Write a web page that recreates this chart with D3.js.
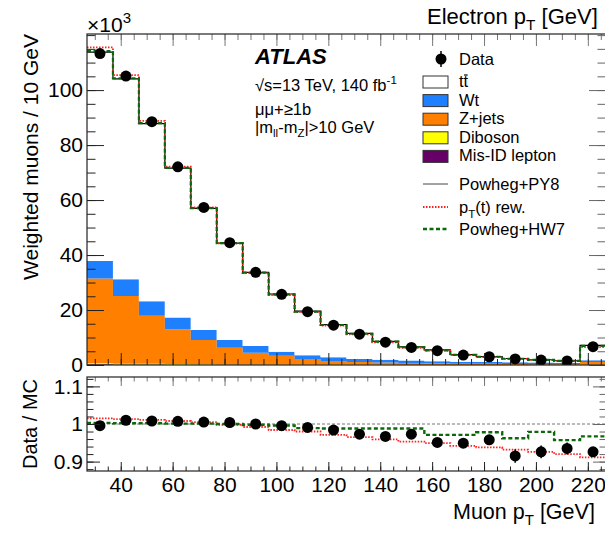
<!DOCTYPE html>
<html>
<head>
<meta charset="utf-8">
<script src="https://cdn.jsdelivr.net/npm/d3@7"></script>
<style>
body { margin: 0; background: #fff; }
text { font-family: 'Liberation Sans', Arial, sans-serif; fill: #000; }
</style>
</head>
<body>
<div id="chart"></div>
<script>
// muon pT bin edges [GeV]
const binEdges = [27, 37, 47, 57, 67, 77, 87, 97, 107, 117, 127, 137, 147, 157, 167, 177, 187, 197, 207, 217, 227];

// weighted muons / 10 GeV, x10^3
const dataCounts = [113.3, 105.1, 88.5, 72.1, 57.3, 44.5, 33.7, 25.7, 19.4, 14.5, 11.2, 8.3, 6.4, 5.2, 3.6, 3.0, 2.2, 1.8, 1.45, 6.65];
const ttbar   = [76.0, 72.9, 64.6, 54.3, 44.3, 35.2, 26.8, 21.0, 16.0, 11.9, 9.3, 6.7, 5.0, 4.1, 2.6, 2.0, 1.4, 1.05, 0.75, 5.4];
const wt      = [6.3, 6.1, 5.3, 4.3, 3.6, 2.8, 2.4, 1.5, 1.4, 1.35, 1.1, 1.0, 0.9, 0.8, 0.7, 0.65, 0.6, 0.55, 0.5, 0.7];
const zjets   = [30.9, 24.6, 17.5, 12.7, 8.85, 6.1, 4.35, 3.2, 2.1, 1.4, 1.05, 0.85, 0.65, 0.55, 0.45, 0.4, 0.35, 0.3, 0.28, 1.0];
const diboson = [0.35, 0.3, 0.25, 0.2, 0.16, 0.13, 0.1, 0.08, 0.06, 0.05, 0.04, 0.035, 0.03, 0.025, 0.02, 0.018, 0.015, 0.012, 0.01, 0.05];
const misId   = [0.25, 0.2, 0.16, 0.12, 0.09, 0.07, 0.05, 0.04, 0.03, 0.025, 0.02, 0.015, 0.012, 0.01, 0.008, 0.007, 0.006, 0.005, 0.004, 0.02];

// ratio panel
const dataOverMC    = [0.9955, 1.010, 1.008, 1.007, 1.005, 1.004, 1.000, 0.9955, 0.991, 0.984, 0.973, 0.967, 0.973, 0.951, 0.949, 0.958, 0.915, 0.926, 0.935, 0.926];
const dataOverMCErr = [0.003, 0.003, 0.003, 0.003, 0.004, 0.004, 0.005, 0.005, 0.006, 0.007, 0.008, 0.009, 0.010, 0.011, 0.012, 0.013, 0.018, 0.017, 0.016, 0.012];
const ptRewOverNom  = [1.015, 1.013, 1.011, 1.008, 1.005, 0.998, 0.992, 0.984, 0.980, 0.971, 0.965, 0.959, 0.953, 0.949, 0.942, 0.938, 0.932, 0.926, 0.920, 0.911];
const hw7OverNom    = [1.003, 1.002, 1.002, 1.001, 1.001, 1.000, 0.998, 0.996, 0.989, 0.988, 0.988, 0.988, 0.988, 0.971, 0.971, 0.978, 0.962, 0.979, 0.957, 0.967];

// axis ticks
const xTicks = [40, 60, 80, 100, 120, 140, 160, 180, 200, 220];
const yTicks = [0, 20, 40, 60, 80, 100];
const ratioTicks = [0.9, 1, 1.1];

const width = 605, height = 537;
const left = 87, right = 606;
const mainTop = 34, mainBottom = 365;
const ratioTop = 377, ratioBottom = 471;

const svg = d3.select('#chart')
.append('svg')
.attr('width', width)
.attr('height', height);

const x = d3.scaleLinear().domain([27, 227]).range([left, right]);
const y = d3.scaleLinear().domain([0, 120.4]).range([mainBottom, mainTop]);
const yr = d3.scaleLinear().domain([0.875, 1.125]).range([ratioBottom, ratioTop]);

const defs = svg.append('defs');
defs.append('clipPath').attr('id', 'clipMain')
.append('rect').attr('x', left).attr('y', mainTop).attr('width', right - left).attr('height', mainBottom - mainTop);
defs.append('clipPath').attr('id', 'clipRatio')
.append('rect').attr('x', left).attr('y', ratioTop).attr('width', right - left).attr('height', ratioBottom - ratioTop);

function stepPoints( values ) {
    const pts = [];
    values.forEach((v, i) => {
        pts.push([binEdges[i], v]);
        pts.push([binEdges[i + 1], v]);
    });
    return pts;
}

// ---- main panel: stacked backgrounds
const rows = binEdges.slice(0, -1).map((lo, i) => ({
    i: i, misId: misId[i], diboson: diboson[i], zjets: zjets[i], wt: wt[i], ttbar: ttbar[i]
}));
const keys = ['misId', 'diboson', 'zjets', 'wt', 'ttbar'];
const colors = { misId: '#660066', diboson: '#ffff00', zjets: '#ff7f00', wt: '#1e7fff', ttbar: '#ffffff' };
const stacked = d3.stack().keys(keys)(rows);

const mainG = svg.append('g').attr('clip-path', 'url(#clipMain)');

const area = d3.area()
.x(d => x(d.x))
.y0(d => y(d.y0))
.y1(d => y(d.y1));

stacked.forEach(layer => {
    const pts = [];
    layer.forEach((d, i) => {
        pts.push({ x: binEdges[i], y0: d[0], y1: d[1] });
        pts.push({ x: binEdges[i + 1], y0: d[0], y1: d[1] });
    });
    mainG.append('path')
    .attr('d', area(pts))
    .attr('fill', colors[layer.key]);
});

const total = rows.map(r => keys.reduce((s, k) => s + r[k], 0));

const line = d3.line().x(d => x(d[0])).y(d => y(d[1]));

mainG.append('path')
.attr('d', line(stepPoints(total)))
.attr('fill', 'none')
.attr('stroke', '#000')
.attr('stroke-width', 1.2);

mainG.append('path')
.attr('d', line(stepPoints(total.map((t, i) => t * ptRewOverNom[i]))))
.attr('fill', 'none')
.attr('stroke', '#ff2020')
.attr('stroke-width', 1.8)
.attr('stroke-dasharray', '1.5,1.5');

mainG.append('path')
.attr('d', line(stepPoints(total.map((t, i) => t * hw7OverNom[i]))))
.attr('fill', 'none')
.attr('stroke', '#0a6a0a')
.attr('stroke-width', 2.2)
.attr('stroke-dasharray', '4,2.5');

mainG.selectAll('circle.data')
.data(dataCounts)
.enter()
.append('circle')
.attr('class', 'data')
.attr('cx', (d, i) => x((binEdges[i] + binEdges[i + 1]) / 2))
.attr('cy', d => y(d))
.attr('r', 5.5)
.attr('fill', '#000');

// ---- ratio panel
const ratioG = svg.append('g').attr('clip-path', 'url(#clipRatio)');
const rline = d3.line().x(d => x(d[0])).y(d => yr(d[1]));

ratioG.append('line')
.attr('x1', left).attr('x2', right)
.attr('y1', yr(1)).attr('y2', yr(1))
.attr('stroke', '#777')
.attr('stroke-width', 1)
.attr('stroke-dasharray', '3,2');

ratioG.append('path')
.attr('d', rline(stepPoints(ptRewOverNom)))
.attr('fill', 'none')
.attr('stroke', '#ff2020')
.attr('stroke-width', 1.8)
.attr('stroke-dasharray', '1.5,1.5');

ratioG.append('path')
.attr('d', rline(stepPoints(hw7OverNom)))
.attr('fill', 'none')
.attr('stroke', '#0a6a0a')
.attr('stroke-width', 2.4)
.attr('stroke-dasharray', '4,2.5');

ratioG.selectAll('line.err')
.data(dataOverMC)
.enter()
.append('line')
.attr('class', 'err')
.attr('x1', (d, i) => x((binEdges[i] + binEdges[i + 1]) / 2))
.attr('x2', (d, i) => x((binEdges[i] + binEdges[i + 1]) / 2))
.attr('y1', (d, i) => yr(d - dataOverMCErr[i]))
.attr('y2', (d, i) => yr(d + dataOverMCErr[i]))
.attr('stroke', '#000')
.attr('stroke-width', 1.5);

ratioG.selectAll('circle.data')
.data(dataOverMC)
.enter()
.append('circle')
.attr('class', 'data')
.attr('cx', (d, i) => x((binEdges[i] + binEdges[i + 1]) / 2))
.attr('cy', d => yr(d))
.attr('r', 5.5)
.attr('fill', '#000');

// ---- axes
function styleAxis( g, color ) {
    g.select('.domain').remove();
    g.selectAll('line').attr('stroke', color).attr('stroke-width', 1);
    g.selectAll('text').attr('font-size', 21).attr('fill', '#000')
    .attr('font-family', "'Liberation Sans', Arial, sans-serif");
}

function drawAxes( yScale, top, bottom, majorY, minorY, ySize, xSize, withXLabels, yFormat ) {
    // left
    svg.append('g').attr('transform', `translate(${left},0)`)
    .call(d3.axisLeft(yScale).tickValues(minorY).tickSize(-ySize / 2).tickFormat(''))
    .call(g => styleAxis(g, '#222'));
    svg.append('g').attr('transform', `translate(${left},0)`)
    .call(d3.axisLeft(yScale).tickValues(majorY).tickSize(-ySize).tickPadding(4).tickFormat(yFormat))
    .call(g => styleAxis(g, '#222'));
    // right mirror
    svg.append('g').attr('transform', `translate(${right},0)`)
    .call(d3.axisRight(yScale).tickValues(minorY).tickSize(-ySize / 2).tickFormat(''))
    .call(g => styleAxis(g, '#666'));
    svg.append('g').attr('transform', `translate(${right},0)`)
    .call(d3.axisRight(yScale).tickValues(majorY).tickSize(-ySize).tickFormat(''))
    .call(g => styleAxis(g, '#666'));
    // bottom
    const minorX = d3.range(30, 227, 5);
    svg.append('g').attr('transform', `translate(0,${bottom})`)
    .call(d3.axisBottom(x).tickValues(minorX).tickSize(-xSize / 2).tickFormat(''))
    .call(g => styleAxis(g, '#222'));
    svg.append('g').attr('transform', `translate(0,${bottom})`)
    .call(d3.axisBottom(x).tickValues(xTicks).tickSize(-xSize).tickPadding(6).tickFormat(withXLabels ? d3.format('d') : ''))
    .call(g => styleAxis(g, '#222'));
    // top mirror
    svg.append('g').attr('transform', `translate(0,${top})`)
    .call(d3.axisTop(x).tickValues(minorX).tickSize(-xSize / 2).tickFormat(''))
    .call(g => styleAxis(g, '#777'));
    svg.append('g').attr('transform', `translate(0,${top})`)
    .call(d3.axisTop(x).tickValues(xTicks).tickSize(-xSize).tickFormat(''))
    .call(g => styleAxis(g, '#777'));
    // frame
    svg.append('rect')
    .attr('x', left).attr('y', top)
    .attr('width', right - left).attr('height', bottom - top)
    .attr('fill', 'none')
    .attr('stroke', '#222')
    .attr('stroke-width', 1.2);
}

drawAxes(y, mainTop, mainBottom, yTicks, d3.range(0, 121, 5), 17, 12, false, d3.format('d'));
drawAxes(yr, ratioTop, ratioBottom, ratioTicks, d3.range(0.88, 1.125, 0.02), 13, 9, true, d => d === 1 ? '1' : d3.format('.1f')(d));

// ---- titles
svg.append('text')
.attr('transform', `translate(38,${mainTop}) rotate(-90)`)
.attr('text-anchor', 'end')
.attr('font-size', 21)
.text('Weighted muons / 10 GeV');

svg.append('text')
.attr('transform', `translate(37,${(ratioTop + ratioBottom) / 2}) rotate(-90)`)
.attr('text-anchor', 'middle')
.attr('font-size', 20)
.text('Data / MC');

const x103 = svg.append('text').attr('x', left).attr('y', 32).attr('font-size', 21);
x103.append('tspan').text('\u00d710');
x103.append('tspan').attr('dy', -9).attr('font-size', 15).text('3');

function ptTitle( px, py, pre, post, size ) {
    const t = svg.append('text').attr('x', px).attr('y', py).attr('font-size', size);
    t.append('tspan').text(pre + ' p');
    t.append('tspan').attr('dy', 6).attr('font-size', size * 0.7).text('T');
    t.append('tspan').attr('dy', -6).text('\u00a0' + post);
}
ptTitle(427, 24, 'Electron', '[GeV]', 22);
ptTitle(453, 519, 'Muon', '[GeV]', 21.5);

// ---- ATLAS label
svg.append('text')
.attr('x', 255).attr('y', 64)
.attr('font-size', 22)
.attr('font-weight', 'bold')
.attr('font-style', 'italic')
.text('ATLAS');

const info1 = svg.append('text').attr('x', 255).attr('y', 91).attr('font-size', 16.5);
info1.append('tspan').text('\u221as=13 TeV, 140 fb');
info1.append('tspan').attr('dy', -7).attr('font-size', 11.5).text('-1');

svg.append('text').attr('x', 255).attr('y', 115).attr('font-size', 16.5).text('\u03bc\u03bc+\u22651b');

const info3 = svg.append('text').attr('x', 255).attr('y', 133).attr('font-size', 16.5);
info3.append('tspan').text('|m');
info3.append('tspan').attr('dy', 4).attr('font-size', 11.5).text('ll');
info3.append('tspan').attr('dy', -4).text('-m');
info3.append('tspan').attr('dy', 4).attr('font-size', 11.5).text('Z');
info3.append('tspan').attr('dy', -4).text('|>10 GeV');

// ---- legend
const legX = 423, legTextX = 459;
const lg = svg.append('g');

lg.append('line').attr('x1', legX + 18).attr('x2', legX + 18).attr('y1', 51).attr('y2', 67).attr('stroke', '#000').attr('stroke-width', 1.5);
lg.append('circle').attr('cx', legX + 18).attr('cy', 59).attr('r', 5.5).attr('fill', '#000');
lg.append('text').attr('x', legTextX).attr('y', 65).attr('font-size', 16.5).text('Data');

const boxEntries = [
    { key: 'ttbar', label: 'tt' },
    { key: 'wt', label: 'Wt' },
    { key: 'zjets', label: 'Z+jets' },
    { key: 'diboson', label: 'Diboson' },
    { key: 'misId', label: 'Mis-ID lepton' }
];
boxEntries.forEach((e, i) => {
    const by = 87 + i * 18.6;
    lg.append('rect')
    .attr('x', legX).attr('y', by - 11)
    .attr('width', 25).attr('height', 12)
    .attr('fill', colors[e.key])
    .attr('stroke', '#333')
    .attr('stroke-width', 1);
    const t = lg.append('text').attr('x', legTextX).attr('y', by).attr('font-size', 16.5).text(e.label);
    if (e.key === 'ttbar') {
        const box = t.node().getExtentOfChar(1);
        lg.append('line')
        .attr('x1', box.x + 0.5).attr('x2', box.x + box.width - 0.5)
        .attr('y1', box.y + 3).attr('y2', box.y + 3)
        .attr('stroke', '#000').attr('stroke-width', 1.2);
    }
});

const lineEntries = [
    { y: 184, stroke: '#444', width: 1, dash: null },
    { y: 207, stroke: '#ff2020', width: 1.8, dash: '1.5,1.5' },
    { y: 229, stroke: '#0a6a0a', width: 2.4, dash: '4,2.5' }
];
lineEntries.forEach(e => {
    lg.append('line')
    .attr('x1', legX).attr('x2', legX + 25)
    .attr('y1', e.y).attr('y2', e.y)
    .attr('stroke', e.stroke)
    .attr('stroke-width', e.width)
    .attr('stroke-dasharray', e.dash);
});
lg.append('text').attr('x', legTextX).attr('y', 190).attr('font-size', 16.5).text('Powheg+PY8');
const rew = lg.append('text').attr('x', legTextX).attr('y', 213).attr('font-size', 16.5);
rew.append('tspan').text('p');
rew.append('tspan').attr('dy', 5).attr('font-size', 11.5).text('T');
rew.append('tspan').attr('dy', -5).text('(t) rew.');
lg.append('text').attr('x', legTextX).attr('y', 235).attr('font-size', 16.5).text('Powheg+HW7');
</script>
</body>
</html>
